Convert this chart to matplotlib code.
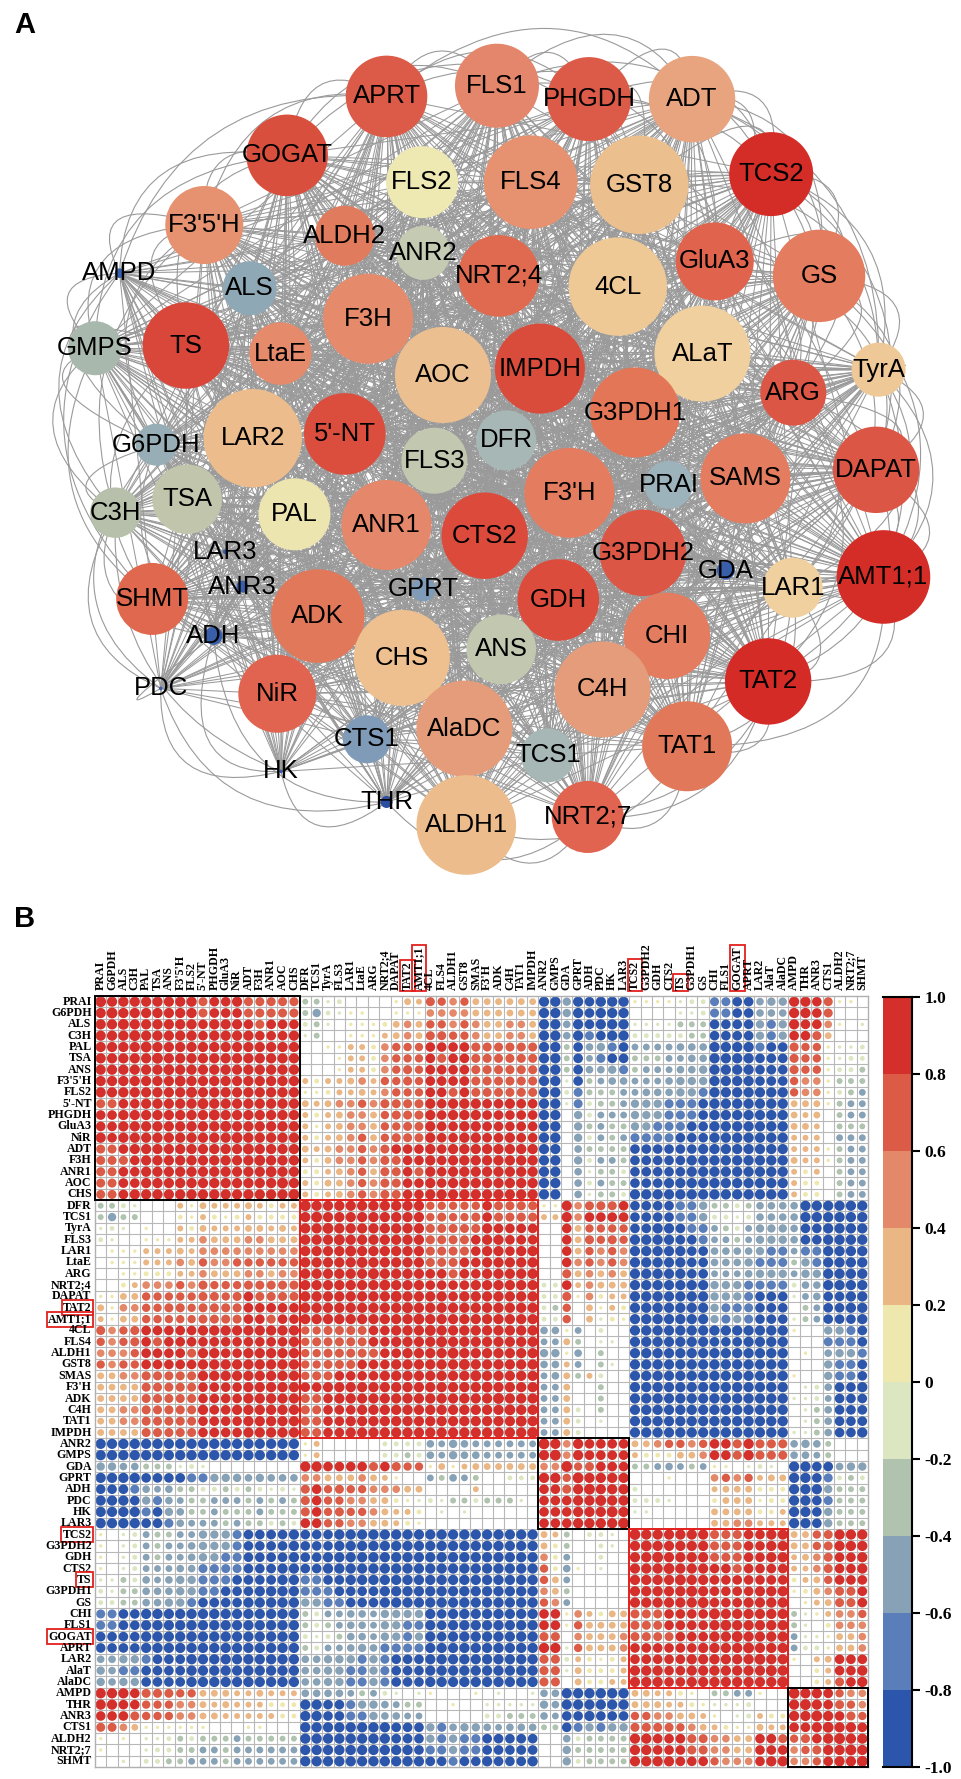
import numpy as np
import matplotlib
matplotlib.use("Agg")
import matplotlib.pyplot as plt
from matplotlib.patches import Circle, Rectangle, PathPatch
from matplotlib.collections import LineCollection
from matplotlib.colors import ListedColormap
from matplotlib.path import Path

# ---------------- data ----------------
genes = ["PRAI", "G6PDH", "ALS", "C3H", "PAL", "TSA", "ANS", "F3'5'H", "FLS2", "5'-NT",
         "PHGDH", "GluA3", "NiR", "ADT", "F3H", "ANR1", "AOC", "CHS",
         "DFR", "TCS1", "TyrA", "FLS3", "LAR1", "LtaE", "ARG", "NRT2;4", "DAPAT", "TAT2",
         "AMT1;1", "4CL", "FLS4", "ALDH1", "GST8", "SMAS", "F3'H", "ADK", "C4H", "TAT1", "IMPDH",
         "ANR2", "GMPS", "GDA", "GPRT", "ADH", "PDC", "HK", "LAR3",
         "TCS2", "G3PDH2", "GDH", "CTS2", "TS", "G3PDH1", "GS", "CHI", "FLS1", "GOGAT",
         "APRT", "LAR2", "AlaT", "AlaDC",
         "AMPD", "THR", "ANR3", "CTS1", "ALDH2", "NRT2;7", "SHMT"]

# lower triangle of the correlation matrix, one string per row (cols 1..row-1)
# '0'..'9' -> 0.0..0.9 ; 'a'..'i' -> -0.1..-0.9
corr_lower = [
    "",
    "9",
    "99",
    "999",
    "9999",
    "99999",
    "999999",
    "9999999",
    "99999999",
    "778899999",
    "8899999999",
    "88999999999",
    "989999999999",
    "7789999999999",
    "77789999999999",
    "778899999999999",
    "7788999999999999",
    "77899999999999999",
    "ccba00031433343233",
    "cfcc00021321232222 9",
    "aba010032433344343 99",
    "ba0011133544455444 999",
    "011133343555555555 9999",
    "011133354655666666 99999",
    "001122233544455455 999999",
    "002355565766677777 9999999",
    "114466666776787777 99999999",
    "415566776777788888 999999999",
    "314466666777788788 9999999999",
    "756788888999999999 66777788999",
    "656787888888888889 67777788999 9",
    "555688887998899999 66777778899 99",
    "656688888999999999 66777888999 999",
    "445577777999999999 67788889999 9999",
    "444477777888899999 8899999999999999",
    "444477777888899999 7789999999999999 9",
    "445577777988999999 7788899999999999 99",
    "445577777888899999 7788999999999999 999",
    "444477777888899999 7788999999999999 9999",
    "iiiiiiiiiiiiiiiiii 1300000bbbbedfed ddddd",
    "iiiiiiiiiiiiiiiiii 1300000bbcbedfee ddddd 9",
    "ffeecccaba00000000 9988887876614134 44444 55",
    "iiiihhhhggfffefeee 55444543100dcedc 00bbb 996",
    "hhhgedeccbbcbcbaba 7867665554400003 00000 8879",
    "iiihfgedccdddcdcdc 7866554421abaccb ccca0 88899",
    "iiiighfeccdcccdccc 786766543320a0a0 00000 888999",
    "iiiihhgedddcdccbcb 8866554432100000 00000 8889999",
    "10abdccddfffghhhhi hhhiiiiiiiiiiiii iiiii 43c0bba0",
    "10abdcddefffghhhhi hhhiiiiiiiiiiiii iiiii 42c00ba0 9",
    "10abdcddeffgghhhhi hhiiiiiiiiiiiiii iiiii 52d00b00 99",
    "10abdddeegggghhhii hhiiiiiiiiiiiiii iiiii 62e10a00 999",
    "aacbedeffggghhhhii gghhiiiiiiiiiiii iiiii 64d00000 9999",
    "bacceeeffgghhhiiii ggghhhhiiiiiiiii iiiii 54c00000 99999",
    "bbcceeffghhhhiiiii ffgghhhiiiiiiiii iiiii 65d00000 999999",
    "gghhiiiiiiiiiiiiii cbddeedffffihiii iiiii 88153244 7778888",
    "gghhiiiiiiiiiiiiii cbcdeedffggihiii iiiii 88164444 7778888 9",
    "hhhhiiiiiiiiiiiiii babceedffgfihiii iiiii 77054445 7777888 99",
    "hhhhiiiiiiiiiiiiii cbddefeggggiiiii iiiii 99a64445 8888889 999",
    "eeffghhhiiiiiiiiii eefffgfghhhiiiii iiiii 77b32123 8888899 9999",
    "fegghhhhiiiiiiiiii eeffggfghhhiiiii iiiii 77a42223 9998899 99999",
    "feffhhhhiiiiiiiiii eeffggfghhhiiiii iiiii 77042233 9998899 999999",
    "999877766444334333 eeeedcdba0a10001 0a00a eeiiiiii 4433210ccdd100",
    "998866655434333222 iihhgffedcc00100 aaaaa feiiiiii 4443321aaab000 9",
    "888766655443333322 iihhggfeedd00000 bbccc edhhihhh 665544310ab322 99",
    "775411111100011000 iiiiiiiihhhfgeff edeee cchgfgff 77776543211433 889",
    "1010aabcbcccdccccc iiiiiiiihhhfgfgg hhhhh 00ebcccc 99888775544887 6789",
    "1000abbccddcdddddd iiiiiiiiiihggfgg hhhhh 00fccccc 99888775544888 56799",
    "00a0bbccdddcdddddd iiiiiiiiiiihhghh ihhhi 00fbcccc 99998886555899 556899",
]

# modules outlined on the matrix: (first index, size, colour)
modules = [(0, 18, "black"), (18, 21, "#e3201c"), (39, 8, "black"),
           (47, 14, "#e3201c"), (61, 7, "black")]
boxed_labels = ["TAT2", "AMT1;1", "TCS2", "TS", "GOGAT"]

bin_colors = ["#2c56ab", "#5a7eba", "#87a2b6", "#afc3ae", "#dce6c0",
              "#eee8ae", "#eab684", "#e4886a", "#dc5b46", "#d42f2a"]
cbar_ticks = [1.0, 0.8, 0.6, 0.4, 0.2, 0.0, -0.2, -0.4, -0.6, -0.8, -1.0]
cbar_labels = ["1.0", "0.8", "0.6", "0.4", "0.2", "0", "-0.2", "-0.4", "-0.6", "-0.8", "-1.0"]

# network nodes (positions, layout units), radius, fill
net_names = ["APRT", "FLS1", "PHGDH", "ADT", "GOGAT", "TCS2", "FLS2", "FLS4", "GST8",
             "F3'5'H", "ALDH2", "ANR2", "NRT2;4", "4CL", "GluA3", "GS", "AMPD", "ALS",
             "F3H", "GMPS", "TS", "LtaE", "AOC", "IMPDH", "ALaT", "TyrA", "ARG", "G3PDH1",
             "G6PDH", "LAR2", "5'-NT", "FLS3", "DFR", "PRAI", "SAMS", "DAPAT", "C3H", "TSA",
             "PAL", "ANR1", "F3'H", "CTS2", "G3PDH2", "GDA", "LAR1", "AMT1;1", "LAR3", "SHMT",
             "ANR3", "ADK", "GPRT", "GDH", "CHI", "ADH", "CHS", "ANS", "C4H", "TAT2", "PDC",
             "NiR", "AlaDC", "CTS1", "TCS1", "TAT1", "HK", "THR", "ALDH1", "NRT2;7"]
net_x = [630, 810, 960, 1128, 468, 1257, 688, 865, 1042, 333, 562, 690, 813, 1007, 1165,
         1335, 195, 407, 600, 155, 303, 457, 722, 880, 1145, 1432, 1293, 1035, 255, 412,
         562, 708, 825, 1090, 1215, 1428, 188, 305, 480, 630, 928, 790, 1048, 1183, 1292,
         1440, 367, 248, 395, 518, 690, 910, 1087, 348, 655, 817, 982, 1252, 262, 452, 757,
         598, 893, 1120, 458, 630, 760, 958]
net_y = [180, 160, 185, 185, 290, 325, 340, 340, 345, 420, 440, 472, 515, 535, 488, 515,
         510, 538, 595, 650, 645, 660, 700, 688, 660, 690, 733, 770, 830, 818, 810, 860,
         822, 905, 893, 877, 957, 932, 960, 980, 920, 1000, 1032, 1065, 1097, 1077, 1030,
         1118, 1095, 1150, 1100, 1120, 1187, 1187, 1228, 1212, 1287, 1272, 1285, 1295, 1360,
         1380, 1410, 1393, 1440, 1497, 1540, 1525]
net_r = [68, 70, 70, 72, 68, 70, 60, 78, 82, 65, 50, 45, 68, 82, 65, 77, 8, 45, 75, 45, 72,
         52, 80, 75, 80, 45, 55, 75, 35, 82, 68, 55, 50, 40, 75, 72, 42, 58, 60, 75, 75, 72,
         72, 15, 50, 78, 4, 60, 10, 78, 20, 68, 72, 15, 80, 58, 80, 72, 3, 65, 80, 40, 45, 75,
         3, 10, 83, 60]
net_col = ["#dc5a48", "#e3866b", "#dc5a48", "#e8a47e", "#d94f3d", "#d42d28", "#eee9b3",
           "#e6916f", "#ecbf8f", "#e6916f", "#e07b5e", "#c5cab2", "#e06a50", "#eec996",
           "#e0634d", "#e47c60", "#3a5faa", "#8fa8b5", "#e58a6b", "#a9b8ac", "#d9463a",
           "#e58a6b", "#ecbf90", "#d94c3c", "#efd09e", "#eec896", "#dc5646", "#e27657",
           "#98aeb6", "#ecbc8c", "#db4e3e", "#c2c8b0", "#a6b7b6", "#9db3bb", "#e47c60",
           "#dc5646", "#b7c0aa", "#c0c5ac", "#ece5b0", "#e5876a", "#e47c60", "#dc4a3c",
           "#dc5646", "#3a5faa", "#efd09e", "#d42d28", "#3a5faa", "#e0684e", "#3a5faa",
           "#e2785a", "#7f9bb8", "#dc4c3c", "#e47c60", "#3a5faa", "#eec090", "#c2c8b0",
           "#e59c7a", "#d52b27", "#3a5faa", "#e06450", "#e59c7a", "#7f9bb8", "#a6b7b6",
           "#e2785a", "#3a5faa", "#2c4ea0", "#ecbc8c", "#e06450"]
net_alias = {"SAMS": "SMAS", "ALaT": "AlaT"}
edge_cut = 0.4

# ---------------- matrix ----------------
def decode(ch):
    if ch.isdigit():
        return int(ch) / 10.0
    return -(ord(ch) - ord("a") + 1) / 10.0

n = len(genes)
corr = np.eye(n)
for i, row in enumerate(corr_lower):
    vals = row.replace(" ", "")
    assert len(vals) == i, (genes[i], len(vals))
    for j, ch in enumerate(vals):
        corr[i, j] = corr[j, i] = decode(ch)

W, H = 962, 1779
fig = plt.figure(figsize=(W / 100, H / 100), dpi=100)

# ---------------- panel A : network ----------------
axa = fig.add_axes([0, 1 - 900 / H, 1, 900 / H])
axa.set_xlim(0, W)
axa.set_ylim(900, 0)
axa.axis("off")

px = np.array(net_x) * 962 / 1568
py = np.array(net_y) * 840 / 1568
pr = np.array(net_r) * 0.6
idx = {g: k for k, g in enumerate(genes)}
cx, cy = px.mean(), py.mean()
dist = np.hypot(px - cx, py - cy)
ang = np.arctan2(py - cy, px - cx)
dmax = dist.max()

lines = []
curves = []
m = len(net_names)
for a in range(m):
    ga = idx[net_alias.get(net_names[a], net_names[a])]
    for b in range(a + 1, m):
        gb = idx[net_alias.get(net_names[b], net_names[b])]
        if abs(corr[ga, gb]) < edge_cut:
            continue
        dang = abs((ang[a] - ang[b] + np.pi) % (2 * np.pi) - np.pi)
        if dist[a] > 0.72 * dmax and dist[b] > 0.72 * dmax and dang < 0.9:
            mid = (ang[a] + ang[b]) / 2
            if abs(ang[a] - ang[b]) > np.pi:
                mid += np.pi
            rr = max(dist[a], dist[b]) * 1.2
            curves.append([(px[a], py[a]), (cx + rr * np.cos(mid), cy + rr * np.sin(mid)),
                           (px[b], py[b])])
        else:
            lines.append([(px[a], py[a]), (px[b], py[b])])

axa.add_collection(LineCollection(lines, colors="#9a9a9a", linewidths=0.75, zorder=1))
for c in curves:
    path = Path(c, [Path.MOVETO, Path.CURVE3, Path.CURVE3])
    axa.add_patch(PathPatch(path, fc="none", ec="#9a9a9a", lw=0.8, zorder=1))

for k in range(m):
    axa.add_patch(Circle((px[k], py[k]), pr[k], fc=net_col[k], ec="none", zorder=2))
    axa.text(px[k], py[k], net_names[k], ha="center", va="center", fontsize=18.5,
             family="Liberation Sans", color="black", zorder=3)

fig.text(25 / W, 1 - 25 / H, "A", fontsize=21, weight="bold", family="Liberation Sans",
         ha="center", va="center")
fig.text(25 / W, 1 - 919 / H, "B", fontsize=21, weight="bold", family="Liberation Sans",
         ha="center", va="center")

# ---------------- panel B : correlation matrix ----------------
axb = fig.add_axes([95 / W, 12 / H, 773 / W, 771 / H])
axb.set_xlim(0, n)
axb.set_ylim(n, 0)
axb.set_xticks([])
axb.set_yticks([])
for s in axb.spines.values():
    s.set_color("#b0b0b0")
    s.set_linewidth(1.0)
for k in range(1, n):
    axb.axhline(k, color="#b8b8b8", lw=0.8, zorder=1)
    axb.axvline(k, color="#b8b8b8", lw=0.8, zorder=1)

jj, ii = np.meshgrid(np.arange(n), np.arange(n))
vals = corr.ravel()
bins = np.clip(((vals + 1) / 0.2).astype(int), 0, 9)
cols = [bin_colors[b] for b in bins]
cell_pt = 773 / n * 0.72
sizes = (0.95 * cell_pt) ** 2 * np.abs(vals)
axb.scatter(jj.ravel() + 0.5, ii.ravel() + 0.5, s=sizes, c=cols, marker="o",
            linewidths=0, zorder=2)

for start, size, col in modules:
    axb.add_patch(Rectangle((start, start), size, size, fill=False, ec=col, lw=1.4,
                            zorder=4, clip_on=False))

lab_kw = dict(fontsize=8.6, family="Liberation Serif", weight="bold")
for k, g in enumerate(genes):
    bb = None
    if g in boxed_labels:
        bb = dict(boxstyle="square,pad=0.12", fc="none", ec="#e3201c", lw=1.3)
    axb.text(-0.3, k + 0.5, g, ha="right", va="center", bbox=bb, **lab_kw)
    axb.text(k + 0.5, -0.55, g, ha="center", va="bottom", rotation=90, bbox=bb, **lab_kw)

# ---------------- colour bar ----------------
axc = fig.add_axes([883 / W, 12 / H, 29 / W, 770 / H])
axc.imshow(np.arange(10).reshape(-1, 1), cmap=ListedColormap(bin_colors), origin="lower",
           extent=[0, 1, -1, 1], aspect="auto", vmin=-0.5, vmax=9.5)
axc.set_xlim(0, 1)
axc.set_ylim(-1, 1)
axc.set_xticks([])
axc.yaxis.tick_right()
axc.set_yticks(cbar_ticks)
axc.set_yticklabels(cbar_labels, fontsize=12.5, family="Liberation Serif", weight="bold")
axc.tick_params(axis="y", length=6, width=1.5, pad=3)
axc.spines["left"].set_visible(False)
for s in ["top", "right", "bottom"]:
    axc.spines[s].set_linewidth(1.5)

fig.savefig("out.png", dpi=100)
